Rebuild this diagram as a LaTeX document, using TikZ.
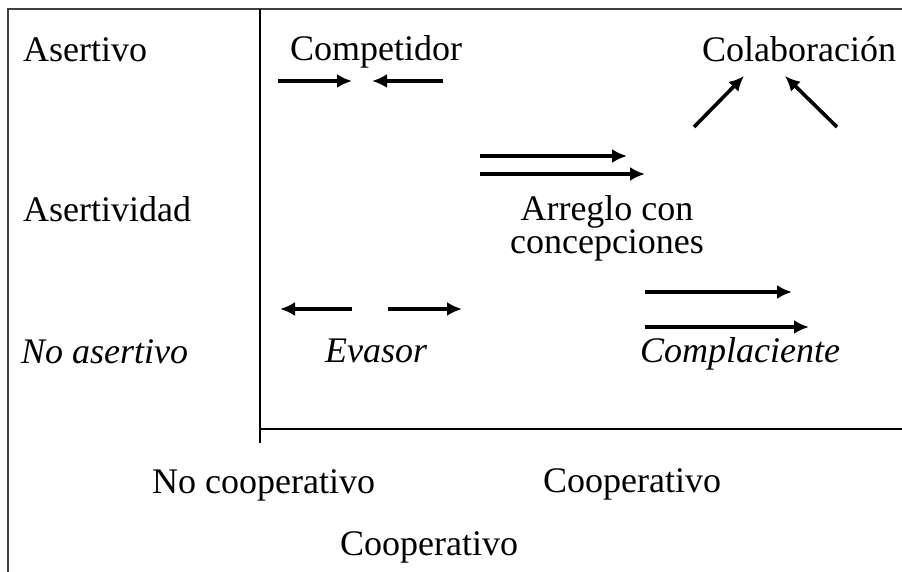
\documentclass[tikz,border=0pt]{standalone}
\usepackage{fontspec}
\setmainfont{Liberation Serif}
\usetikzlibrary{arrows.meta}

\begin{document}
\begin{tikzpicture}[x=1pt, y=-1pt, font={\fontsize{36}{31}\selectfont},
every node/.style={anchor=base west, inner sep=0pt},
flecha/.style={line width=3.6pt}]

\useasboundingbox (0,0) rectangle (902,572);

% marco y ejes
\draw[line width=1.4pt, black!75] (8,572) -- (8,9) -- (902,9);
\draw[line width=2pt] (260,9) -- (260,443);
\draw[line width=2pt] (260,429) -- (902,429);

% rotulos
\path
(23,62) node (asertivo) {Asertivo}
(23,222) node (asertividad) {Asertividad}
(21,363) node (noasertivo) {\itshape No asertivo}
(290,61) node (competidor) {Competidor}
(702,62) node (colaboracion) {Colaboración}
(607,253) node[anchor=base, align=center] (arreglo) {Arreglo con\\concepciones}
(325,362) node (evasor) {\itshape Evasor}
(640,362) node (complaciente) {\itshape Complaciente}
(152,493) node (nocoop) {No cooperativo}
(543,492) node (coop) {Cooperativo}
(340,555) node (coopb) {Cooperativo}
;

% extremos de las flechas
\path
(278,81) coordinate (c1) (352,81) coordinate (c2)
(443,81) coordinate (c3) (372,81) coordinate (c4)
(694,127) coordinate (l1) (744,76) coordinate (l2)
(837,127) coordinate (l3) (785,76) coordinate (l4)
(480,156) coordinate (r1) (627,156) coordinate (r2)
(480,174) coordinate (r3) (645,174) coordinate (r4)
(352,309) coordinate (e1) (280,309) coordinate (e2)
(388,309) coordinate (e3) (462,309) coordinate (e4)
(645,292) coordinate (p1) (792,292) coordinate (p2)
(645,327) coordinate (p3) (809,327) coordinate (p4)
;

\begin{scope}[-{Latex[length=15pt, width=14pt]}, flecha]
\draw (c1) -- (c2) ;
\draw (c3) -- (c4) ;
\draw (l1) -- (l2) ;
\draw (l3) -- (l4) ;
\draw (r1) -- (r2) ;
\draw (r3) -- (r4) ;
\draw (e1) -- (e2) ;
\draw (e3) -- (e4) ;
\draw (p1) -- (p2) ;
\draw (p3) -- (p4) ;
\end{scope}

\end{tikzpicture}
\end{document}
